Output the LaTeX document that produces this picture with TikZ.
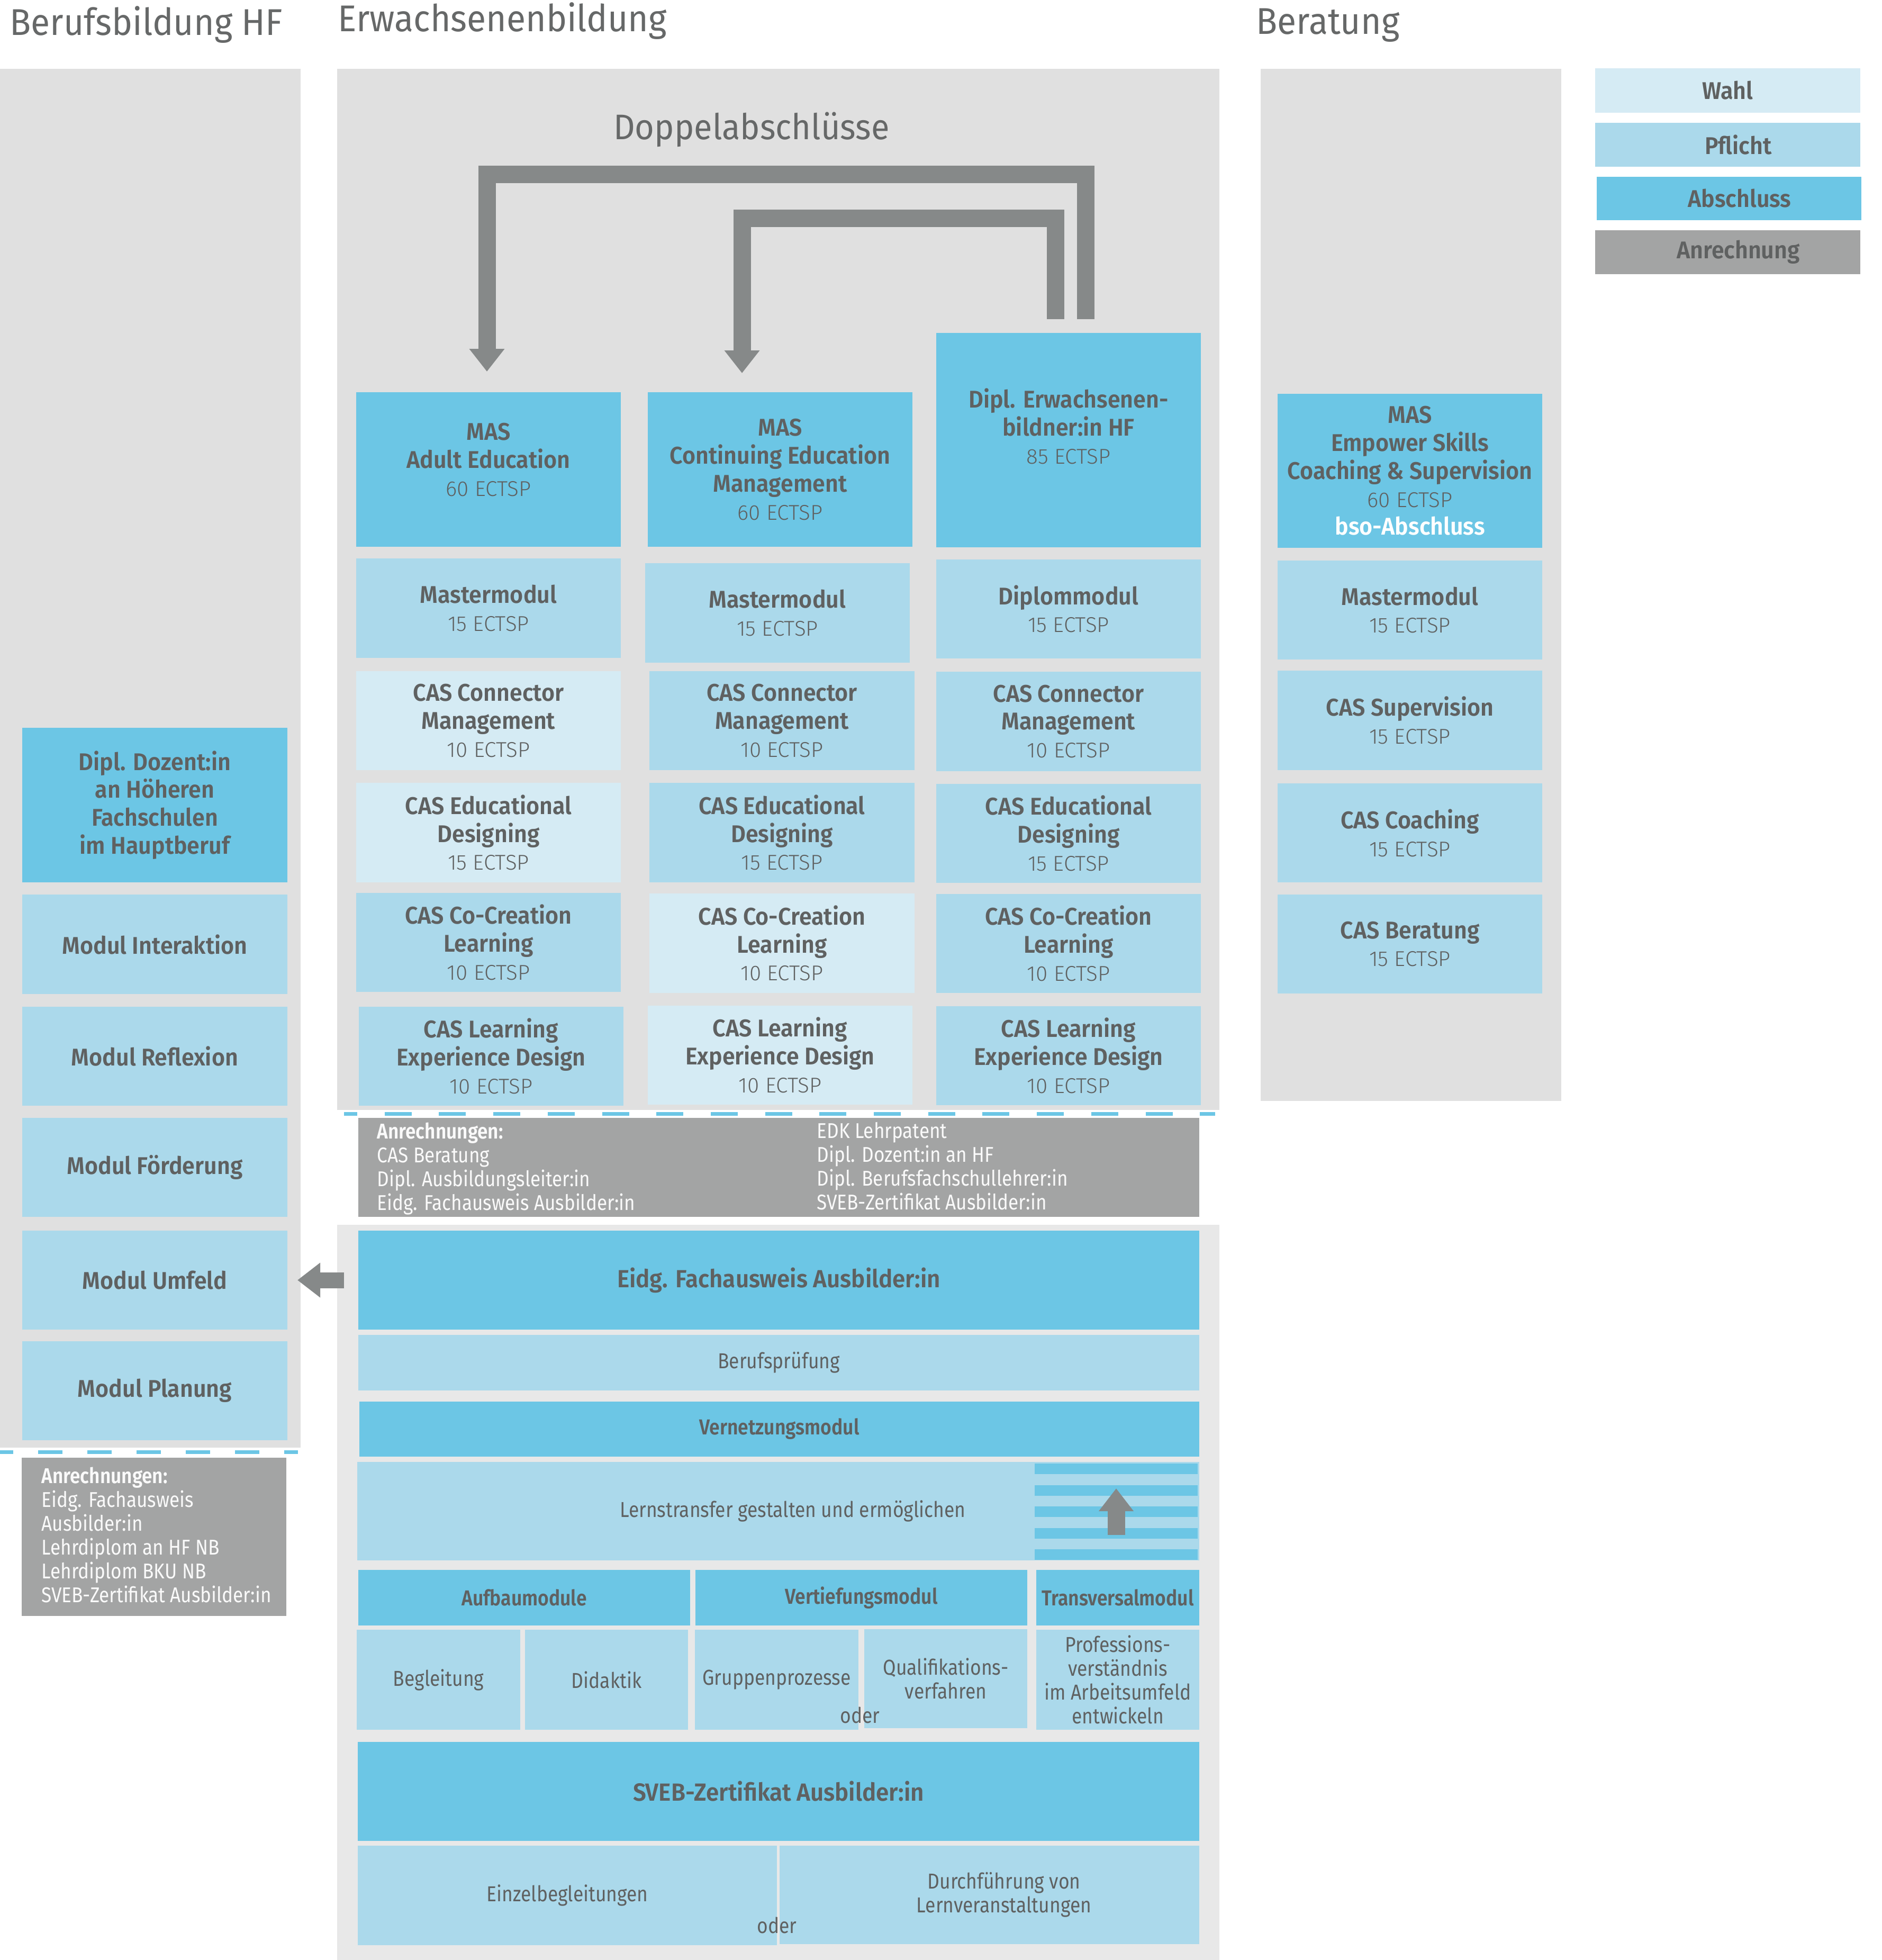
\documentclass[tikz,border=0pt]{standalone}
\usepackage{fontspec}
\setmainfont{Fira Sans}[BoldFont={Fira Sans SemiBold}, FakeStretch=0.94]
\newfontfamily\lightfont{Fira Sans Light}
\newfontfamily\condfont{Fira Sans}[BoldFont={Fira Sans SemiBold}, FakeStretch=0.87]
\usepackage{tikz}
\usetikzlibrary{arrows.meta}
\usetikzlibrary{positioning}
\definecolor{wahlc}{RGB}{213,235,244}
\definecolor{pflichtc}{RGB}{171,217,235}
\definecolor{abschc}{RGB}{108,198,229}
\definecolor{anrc}{RGB}{163,164,164}
\definecolor{arrc}{RGB}{134,137,137}
\definecolor{panelc}{RGB}{224,224,224}
\definecolor{panelb}{RGB}{232,232,232}
\definecolor{txtc}{RGB}{95,97,97}
\definecolor{headc}{RGB}{102,104,104}
\newcommand\ects[1]{{\mdseries\lightfont\fontsize{11.5}{15}\selectfont #1}}
\newcommand\cell[7]{\node [#1, minimum width={(#5-#3)*1cm}, minimum height={(#6-#4)*1cm}] (#2) at ({(#3+#5)/2},{-(#4+#6)/2}) {#7};}
\tikzset{wahl/.style = {fill=wahlc, inner sep=0pt, outer sep=0pt, align=center, text=txtc,
                        font=\bfseries\fontsize{13}{15}\selectfont},
         pflicht/.style = {wahl, fill=pflichtc},
         abschluss/.style = {wahl, fill=abschc},
         bigtext/.style = {font=\bfseries\fontsize{13.3}{16}\selectfont},
         small/.style = {font=\condfont\fontsize{11.6}{12.8}\selectfont},
         smallbf/.style = {font=\condfont\bfseries\fontsize{11.6}{12.8}\selectfont},
         anrech/.style = {fill=anrc, inner sep=0pt, outer sep=0pt},
         anrtext/.style = {anchor=north west, inner sep=0pt, align=left, text=white!96!gray,
                           font=\condfont\fontsize{11.5}{12.8}\selectfont},
         oder/.style = {inner sep=0pt, text=txtc, font=\condfont\fontsize{11.6}{12.8}\selectfont},
         heading/.style = {anchor=base west, inner sep=0pt, text=headc, font=\fontsize{20}{22}\selectfont},
         bigarrow/.style = {draw=arrc, line width=0.33cm, -{Triangle[width=0.64cm,length=0.43cm]}},
         dashline/.style = {draw=abschc, line width=0.07cm, dash pattern=on 0.51cm off 0.517cm}}
\begin{document}
\begin{tikzpicture}
  \useasboundingbox (0,0) rectangle (35.56,-37.03);
  \fill[white] (0,0) rectangle (35.56,-37.03);
  \fill[panelc] (0,-1.30) rectangle (5.68,-27.35);
  \fill[panelc] (6.37,-1.30) rectangle (23.04,-20.97);
  \fill[panelc] (23.82,-1.30) rectangle (29.50,-20.80);
  \fill[panelb] (6.37,-23.14) rectangle (23.04,-37.03);
    \node [heading] (hBeruf) at (0.18,-0.666) {Berufsbildung HF};
    \node [heading] (hErw) at (6.38,-0.596) {Erwachsenenbildung};
    \node [heading] (hBer) at (23.73,-0.645) {Beratung};
    \node [heading, anchor=base, font=\fontsize{19.1}{21}\selectfont] (hDoppel) at (14.20,-2.63) {Doppelabschlüsse};
    % Berufsbildung HF
    \cell{abschluss}{dozent}{0.42}{13.75}{5.43}{16.67}{Dipl. Dozent:in\\an Höheren\\Fachschulen\\im Hauptberuf}
    \cell{pflicht}{interaktion}{0.42}{16.90}{5.43}{18.78}{Modul Interaktion}
    \cell{pflicht}{reflexion}{0.42}{19.02}{5.43}{20.89}{Modul Reflexion}
    \cell{pflicht}{foerderung}{0.42}{21.12}{5.43}{22.99}{Modul Förderung}
    \cell{pflicht}{umfeld}{0.42}{23.25}{5.43}{25.12}{Modul Umfeld}
    \cell{pflicht}{planung}{0.42}{25.34}{5.43}{27.21}{Modul Planung}
    \cell{anrech}{anrLinks}{0.41}{27.54}{5.41}{30.53}{}
    \node [anrtext] (anrLinksText) at (0.78,-27.71) {\textbf{Anrechnungen:}\\Eidg. Fachausweis\\Ausbilder:in\\Lehrdiplom an HF NB\\Lehrdiplom BKU NB\\SVEB-Zertifikat Ausbilder:in};
    % Erwachsenenbildung
    \cell{abschluss}{adMas}{6.73}{7.41}{11.73}{10.33}{MAS\\Adult Education\\\ects{60 ECTSP}\\[-0.15cm]~}
    \cell{pflicht}{adMaster}{6.73}{10.55}{11.73}{12.43}{Mastermodul\\\ects{15 ECTSP}}
    \cell{wahl}{adConn}{6.73}{12.68}{11.73}{14.55}{CAS Connector\\Management\\\ects{10 ECTSP}}
    \cell{wahl}{adEdu}{6.73}{14.79}{11.73}{16.67}{CAS Educational\\Designing\\\ects{15 ECTSP}}
    \cell{pflicht}{adCo}{6.73}{16.87}{11.73}{18.74}{CAS Co-Creation\\Learning\\\ects{10 ECTSP}}
    \cell{pflicht}{adLxd}{6.78}{19.02}{11.78}{20.89}{CAS Learning\\Experience Design\\\ects{10 ECTSP}}
    \cell{abschluss}{ceMas}{12.24}{7.41}{17.24}{10.33}{MAS\\Continuing Education\\Management\\\ects{60 ECTSP}}
    \cell{pflicht}{ceMaster}{12.19}{10.64}{17.19}{12.52}{Mastermodul\\\ects{15 ECTSP}}
    \cell{pflicht}{ceConn}{12.27}{12.68}{17.28}{14.55}{CAS Connector\\Management\\\ects{10 ECTSP}}
    \cell{pflicht}{ceEdu}{12.27}{14.79}{17.28}{16.67}{CAS Educational\\Designing\\\ects{15 ECTSP}}
    \cell{wahl}{ceCo}{12.27}{16.88}{17.28}{18.76}{CAS Co-Creation\\Learning\\\ects{10 ECTSP}}
    \cell{wahl}{ceLxd}{12.24}{19.00}{17.24}{20.87}{CAS Learning\\Experience Design\\\ects{10 ECTSP}}
    \cell{abschluss}{dipl}{17.69}{6.29}{22.69}{10.34}{Dipl. Erwachsenen-\\bildner:in HF\\\ects{85 ECTSP}\\~}
    \cell{pflicht}{diModul}{17.69}{10.57}{22.69}{12.44}{Diplommodul\\\ects{15 ECTSP}}
    \cell{pflicht}{diConn}{17.69}{12.69}{22.69}{14.57}{CAS Connector\\Management\\\ects{10 ECTSP}}
    \cell{pflicht}{diEdu}{17.69}{14.81}{22.69}{16.68}{CAS Educational\\Designing\\\ects{15 ECTSP}}
    \cell{pflicht}{diCo}{17.69}{16.89}{22.69}{18.76}{CAS Co-Creation\\Learning\\\ects{10 ECTSP}}
    \cell{pflicht}{diLxd}{17.69}{19.01}{22.69}{20.88}{CAS Learning\\Experience Design\\\ects{10 ECTSP}}
    % Beratung
    \cell{abschluss}{beMas}{24.14}{7.44}{29.14}{10.35}{MAS\\Empower Skills\\Coaching \& Supervision\\\ects{60 ECTSP}\\\textcolor{white}{bso-Abschluss}}
    \cell{pflicht}{beMaster}{24.14}{10.59}{29.14}{12.46}{Mastermodul\\\ects{15 ECTSP}}
    \cell{pflicht}{beSup}{24.14}{12.67}{29.14}{14.55}{CAS Supervision\\\ects{15 ECTSP}}
    \cell{pflicht}{beCoach}{24.14}{14.80}{29.14}{16.67}{CAS Coaching\\\ects{15 ECTSP}}
    \cell{pflicht}{beBer}{24.14}{16.90}{29.14}{18.77}{CAS Beratung\\\ects{15 ECTSP}}
    % Legende
    \cell{wahl}{lgWahl}{30.14}{1.29}{35.15}{2.13}{Wahl}
    \cell{pflicht}{lgPflicht}{30.14}{2.32}{35.15}{3.15}{\hspace*{0.4cm}Pflicht}
    \cell{abschluss}{lgAbschluss}{30.17}{3.34}{35.17}{4.16}{\hspace*{0.4cm}Abschluss}
    \cell{wahl, fill=anrc}{lgAnr}{30.14}{4.35}{35.15}{5.18}{\hspace*{0.4cm}Anrechnung}
    % Anrechnungen
    \cell{anrech}{anrMitte}{6.77}{21.12}{22.66}{22.99}{}
    \node [anrtext] (anrMitteL) at (7.12,-21.20) {\textbf{Anrechnungen:}\\CAS Beratung\\Dipl. Ausbildungsleiter:in\\Eidg. Fachausweis Ausbilder:in};
    \node [anrtext] (anrMitteR) at (15.43,-21.20) {EDK Lehrpatent\\Dipl. Dozent:in an HF\\Dipl. Berufsfachschullehrer:in\\SVEB-Zertifikat Ausbilder:in};
    \draw [dashline, dash phase=0.26cm] (6.50,-21.04) -- (22.96,-21.04);
    \draw [dashline, dash pattern=on 0.46cm off 0.47cm, dash phase=0.21cm] (0,-27.43) -- (5.63,-27.43);
    % Fachausweis und SVEB
    \cell{abschluss, bigtext}{eidg}{6.77}{23.25}{22.66}{25.12}{Eidg. Fachausweis Ausbilder:in}
    \cell{pflicht, small}{beruf}{6.77}{25.22}{22.66}{26.27}{Berufsprüfung}
    \cell{abschluss, smallbf}{vernetz}{6.79}{26.48}{22.66}{27.52}{Vernetzungsmodul}
    \cell{pflicht, small}{lernst}{6.75}{27.62}{22.66}{29.48}{\hspace*{0.55cm}Lernstransfer gestalten und ermöglichen}
    \foreach \i in {0,...,4}
      \fill[abschc] (19.55,{-27.65-0.405*\i}) rectangle (22.63,{-27.85-0.405*\i});
    \cell{abschluss, smallbf}{aufbau}{6.77}{29.66}{13.04}{30.71}{Aufbaumodule}
    \cell{abschluss, smallbf}{vertief}{13.14}{29.66}{19.41}{30.71}{Vertiefungsmodul}
    \cell{abschluss, smallbf}{transv}{19.58}{29.66}{22.66}{30.71}{Transversalmodul}
    \cell{pflicht, small}{begl}{6.74}{30.79}{9.83}{32.68}{Begleitung}
    \cell{pflicht, small}{didak}{9.92}{30.79}{13.00}{32.68}{Didaktik}
    \cell{pflicht, small}{grupp}{13.13}{30.79}{16.22}{32.68}{Gruppenprozesse}
    \cell{pflicht, small}{quali}{16.33}{30.78}{19.41}{32.65}{Qualifikations-\\verfahren}
    \cell{pflicht, small}{prof}{19.58}{30.79}{22.66}{32.68}{Professions-\\verständnis\\im Arbeitsumfeld\\entwickeln}
    \node [oder] (oder1) at (16.25,-32.40) {oder};
    \cell{abschluss, bigtext}{sveb}{6.76}{32.91}{22.66}{34.78}{SVEB-Zertifikat Ausbilder:in}
    \cell{pflicht, small}{einzel}{6.76}{34.87}{14.68}{36.75}{Einzelbegleitungen}
    \cell{pflicht, small}{durch}{14.73}{34.87}{22.66}{36.73}{\hspace*{0.55cm}Durchführung von\\\hspace*{0.55cm}Lernveranstaltungen}
    \node [oder] (oder2) at (14.68,-36.37) {oder};
    % Pfeile
    \coordinate (dOut) at ([xshift=0.32cm, yshift=0.26cm]dipl.north);
    \coordinate (dIn) at ([xshift=-0.25cm, yshift=0.26cm]dipl.north);
    \coordinate (aOut) at ([xshift=-0.03cm, yshift=0.39cm]adMas.north);
    \coordinate (aIn) at ([xshift=-0.72cm, yshift=0.36cm]ceMas.north);
    \draw [bigarrow] (dOut) -- ++(0,2.74) -| (aOut);
    \draw [bigarrow] (dIn) -- ++(0,1.905) -| (aIn);
    \draw [bigarrow, line width=0.30cm, -{Triangle[width=0.63cm,length=0.43cm]}] ([xshift=-0.27cm]eidg.west) -- ([xshift=0.19cm]umfeld.east);
    \coordinate (upStart) at (21.09,-29.00);
    \coordinate (upEnd) at (21.09,-28.12);
    \draw [bigarrow, -{Triangle[width=0.63cm,length=0.43cm]}] (upStart) -- (upEnd);
\end{tikzpicture}
\end{document}
